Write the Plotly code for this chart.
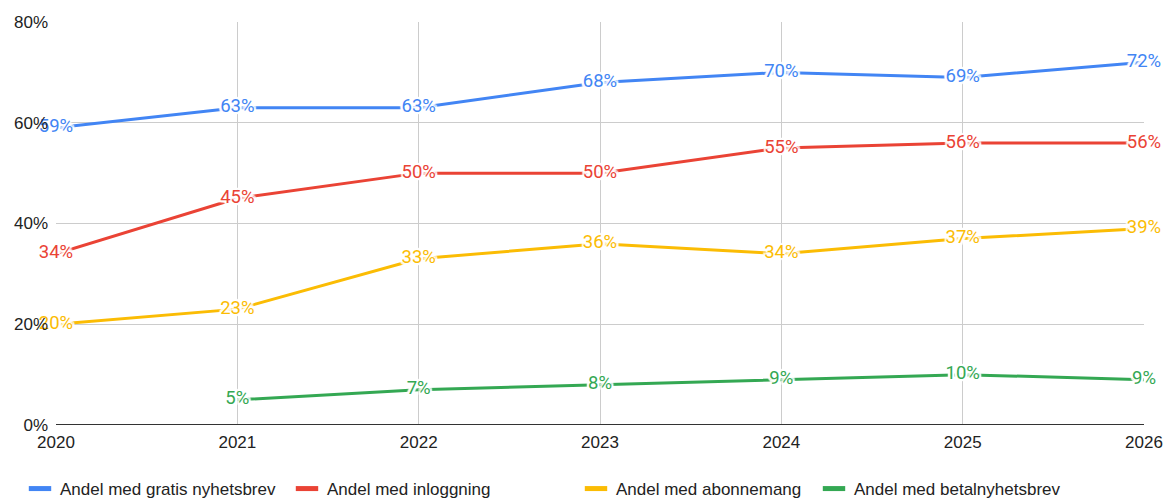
import plotly.graph_objects as go

years = [2020, 2021, 2022, 2023, 2024, 2025, 2026]

series_names = [
    "Andel med gratis nyhetsbrev",
    "Andel med inloggning",
    "Andel med abonnemang",
    "Andel med betalnyhetsbrev",
]
gratis_nyhetsbrev = [59, 63, 63, 68, 70, 69, 72]
inloggning = [34, 45, 50, 50, 55, 56, 56]
abonnemang = [20, 23, 33, 36, 34, 37, 39]
betalnyhetsbrev = [None, 5, 7, 8, 9, 10, 9]

series_values = [gratis_nyhetsbrev, inloggning, abonnemang, betalnyhetsbrev]
colors = ["#4285F4", "#EA4335", "#FBBC04", "#34A853"]

y_ticks = [0, 20, 40, 60, 80]
y_tick_labels = ["0%", "20%", "40%", "60%", "80%"]

# left edge (container fraction) of each legend entry
legend_x = [20 / 1175, 287 / 1175, 576 / 1175, 814 / 1175]

axis_font = "Arial, 'Liberation Sans', sans-serif"
label_font = "Roboto, Arial, sans-serif"

# white halo around the value labels
halo = ", ".join(
    f"white {dx}px {dy}px 1px"
    for dx, dy in [(2, 0), (-2, 0), (0, 2), (0, -2), (2, 2), (-2, -2), (2, -2), (-2, 2)]
)

fig = go.Figure()

for name, vals, col in zip(series_names, series_values, colors):
    fig.add_trace(
        go.Scatter(
            x=years,
            y=vals,
            mode="lines+text",
            name=name,
            line=dict(color=col, width=3),
            text=[None if v is None else f"{v}%" for v in vals],
            textposition="middle center",
            textfont=dict(family=label_font, size=18.5, color=col, shadow=halo),
            cliponaxis=False,
            showlegend=False,
            hoverinfo="skip",
        )
    )

# legend entries drawn as short thick bars, one legend box per series
legend_ids = ["legend", "legend2", "legend3", "legend4"]
for name, col, lid in zip(series_names, colors, legend_ids):
    fig.add_trace(
        go.Scatter(
            x=[None],
            y=[None],
            mode="markers",
            name=name,
            marker=dict(symbol="line-ew", size=16, color=col, line=dict(color=col, width=5)),
            showlegend=True,
            legend=lid,
        )
    )

legend_style = dict(
    orientation="h",
    xref="container",
    xanchor="left",
    yref="container",
    y=0.02,
    yanchor="middle",
    font=dict(family=axis_font, size=17, color="#222222"),
    itemsizing="trace",
    bgcolor="rgba(0,0,0,0)",
)

fig.update_layout(
    width=1175,
    height=499,
    margin=dict(l=56, r=27, t=22, b=74),
    paper_bgcolor="white",
    plot_bgcolor="white",
    font=dict(family=axis_font, size=17, color="#222222"),
    **{lid: dict(legend_style, x=lx) for lid, lx in zip(legend_ids, legend_x)},
)

fig.update_xaxes(
    range=[2020, 2026],
    tickmode="array",
    tickvals=years,
    ticktext=[str(y) for y in years],
    showgrid=True,
    gridcolor="#cccccc",
    gridwidth=1,
    showline=False,
    zeroline=False,
    ticks="",
    ticklabelstandoff=5,
    tickfont=dict(family=axis_font, size=17, color="#222222"),
)

fig.update_yaxes(
    range=[0, 80],
    tickmode="array",
    tickvals=y_ticks,
    ticktext=y_tick_labels,
    showgrid=True,
    gridcolor="#cccccc",
    gridwidth=1,
    zeroline=False,
    showline=False,
    ticks="",
    ticklabelstandoff=7,
    tickfont=dict(family=axis_font, size=17, color="#222222"),
)

# dark baseline along 0%
fig.add_hline(y=0, line=dict(color="#333333", width=2), layer="above")

fig.write_html("out.html")
